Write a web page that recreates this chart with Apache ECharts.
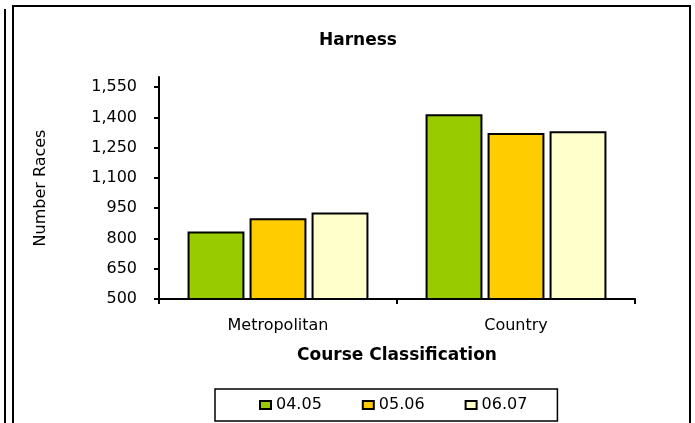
<!DOCTYPE html>
<html>
<head>
<meta charset="utf-8">
<script src="https://cdn.jsdelivr.net/npm/echarts@6/dist/echarts.min.js"></script>
<style>
html,body{margin:0;padding:0;background:#fff;}
#chart{width:695px;height:423px;}
</style>
</head>
<body>
<div id="chart"></div>
<script>
const categories = ['Metropolitan', 'Country'];
const seriesNames = ['04.05', '05.06', '06.07'];
const values0405 = [834, 1416];
const values0506 = [900, 1322];
const values0607 = [928, 1331];
const yTickValues = [500, 650, 800, 950, 1100, 1250, 1400, 1550];
const colors = ['#99CC00', '#FFCC00', '#FFFFCC'];

const FONT = '"DejaVu Sans", "Liberation Sans", Arial, sans-serif';

const chart = echarts.init(document.getElementById('chart'), null, {renderer: 'canvas'});
const seriesData = [values0405, values0506, values0607];

const option = {
  animation: false,
  backgroundColor: '#fff',
  title: {
    text: 'Harness',
    left: 353,
    textAlign: 'center',
    top: 27,
    textStyle: {fontFamily: FONT, fontSize: 17, fontWeight: 'bold', color: '#000'}
  },
  grid: {left: 159, right: 60, top: 77, bottom: 124, containLabel: false},
  legend: {
    data: seriesNames,
    left: 215,
    top: 389,
    orient: 'horizontal',
    itemWidth: 11,
    itemHeight: 8,
    itemGap: 40,
    padding: [8, 30, 8, 44],
    borderColor: '#000',
    borderWidth: 1.5,
    icon: 'rect',
    textStyle: {fontFamily: FONT, fontSize: 16, color: '#000'}
  },
  xAxis: {
    type: 'category',
    data: categories,
    name: 'Course Classification',
    nameLocation: 'middle',
    nameGap: 48,
    nameTextStyle: {fontFamily: FONT, fontSize: 17, fontWeight: 'bold', color: '#000'},
    axisLine: {lineStyle: {color: '#000', width: 2}},
    axisTick: {show: true, length: 5, lineStyle: {color: '#000', width: 2}},
    axisLabel: {fontFamily: FONT, fontSize: 16, color: '#000', margin: 19},
    splitLine: {show: false}
  },
  yAxis: {
    type: 'value',
    min: 500,
    max: 1600,
    interval: 150,
    name: 'Number Races',
    nameLocation: 'middle',
    nameGap: 110,
    nameTextStyle: {fontFamily: FONT, fontSize: 16, color: '#000'},
    axisLine: {show: true, lineStyle: {color: '#000', width: 2}},
    axisTick: {show: true, length: 5, customValues: yTickValues, lineStyle: {color: '#000', width: 2}},
    axisLabel: {
      customValues: yTickValues,
      fontFamily: FONT, fontSize: 16, color: '#000', margin: 22,
      formatter: v => Number(v).toLocaleString('en-US')
    },
    splitLine: {show: false}
  },
  series: seriesNames.map((name, i) => ({
    name: name,
    type: 'bar',
    data: seriesData[i],
    barGap: '9%',
    barCategoryGap: '24%',
    itemStyle: {color: colors[i], borderColor: '#000', borderWidth: 2}
  })),
  graphic: [
    {type: 'line', silent: true, shape: {x1: 5, y1: 9, x2: 5, y2: 430}, style: {stroke: '#000', lineWidth: 2}},
    {type: 'rect', silent: true, shape: {x: 13, y: 6, width: 677, height: 430}, style: {fill: 'none', stroke: '#000', lineWidth: 2}}
  ]
};
chart.setOption(option);
</script>
</body>
</html>
